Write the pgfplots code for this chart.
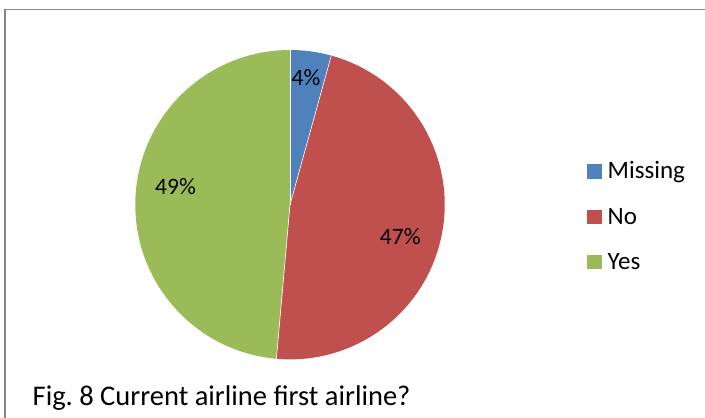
\documentclass[border=0pt]{standalone}
\usepackage{pgfplots}
\usepackage{pgfplotstable}
\pgfplotsset{compat=1.18}
\usepackage{fontspec}
\setmainfont{Carlito}
\definecolor{cMissing}{HTML}{4F81BD}
\definecolor{cNo}{HTML}{C0504D}
\definecolor{cYes}{HTML}{9BBB59}
\definecolor{frame}{RGB}{134,134,134}
\pgfplotstableread{
label value
Missing 4.3
No 47.1
Yes 48.6
}\piedata
\pgfplotstablegetelem{0}{value}\of\piedata \let\vA\pgfplotsretval
\pgfplotstablegetelem{1}{value}\of\piedata \let\vB\pgfplotsretval
\pgfplotstablegetelem{2}{value}\of\piedata \let\vC\pgfplotsretval
\begin{document}
\begin{tikzpicture}
\pgfmathsetmacro\angA{90-3.6*\vA}
\pgfmathsetmacro\angB{\angA-3.6*\vB}
\pgfmathsetmacro\angC{\angB-3.6*\vC}
\begin{axis}[
  name=ax,
  width=705bp, height=418bp, scale only axis,
  xmin=0, xmax=705, ymin=0, ymax=418,
  hide axis, clip=false,
  font=\fontsize{23.5bp}{27bp}\selectfont,
]
\def\cx{290}\def\cy{213.3}\def\R{154.7bp}
\fill[cMissing] (axis cs:\cx,\cy) -- ++(90:\R) arc[start angle=90, end angle=\angA, radius=\R] -- cycle;
\fill[cNo] (axis cs:\cx,\cy) -- ++(\angA:\R) arc[start angle=\angA, end angle=\angB, radius=\R] -- cycle;
\fill[cYes] (axis cs:\cx,\cy) -- ++(\angB:\R) arc[start angle=\angB, end angle=\angC, radius=\R] -- cycle;
\draw[white, line width=0.6pt] (axis cs:\cx,\cy) -- ++(90:\R);
\draw[white, line width=0.6pt] (axis cs:\cx,\cy) -- ++(\angA:\R);
\draw[white, line width=0.6pt] (axis cs:\cx,\cy) -- ++(\angB:\R);
% percent labels
\node[anchor=base, inner sep=0pt] at (axis cs:306,332) {4\%};
\node[anchor=base, inner sep=0pt] at (axis cs:400.3,173) {47\%};
\node[anchor=base, inner sep=0pt] at (axis cs:175.5,223.7) {49\%};
% legend
\fill[cMissing] (axis cs:587.3,239) rectangle (axis cs:601.7,253.7);
\fill[cNo] (axis cs:587.3,193.5) rectangle (axis cs:601.7,208.2);
\fill[cYes] (axis cs:587.3,148.5) rectangle (axis cs:601.7,163.2);
\node[anchor=base west, inner sep=0pt, font=\fontsize{25bp}{29bp}\selectfont] at (axis cs:607.5,239.7) {Missing};
\node[anchor=base west, inner sep=0pt, font=\fontsize{25bp}{29bp}\selectfont] at (axis cs:607.5,193.7) {No};
\node[anchor=base west, inner sep=0pt, font=\fontsize{25bp}{29bp}\selectfont] at (axis cs:607.5,148.7) {Yes};
% caption
\node[anchor=base west, inner sep=0pt, font=\fontsize{28.5bp}{32bp}\selectfont] at (axis cs:32.5,12.7) {Fig.\ 8 Current airline first airline?};
% frame
\draw[frame, line width=1.8bp] (axis cs:5,0) -- (axis cs:5,408.5) -- (axis cs:705,408.5);
\end{axis}
\pgfresetboundingbox
\path (ax.south west) rectangle (ax.north east);
\end{tikzpicture}
\end{document}
